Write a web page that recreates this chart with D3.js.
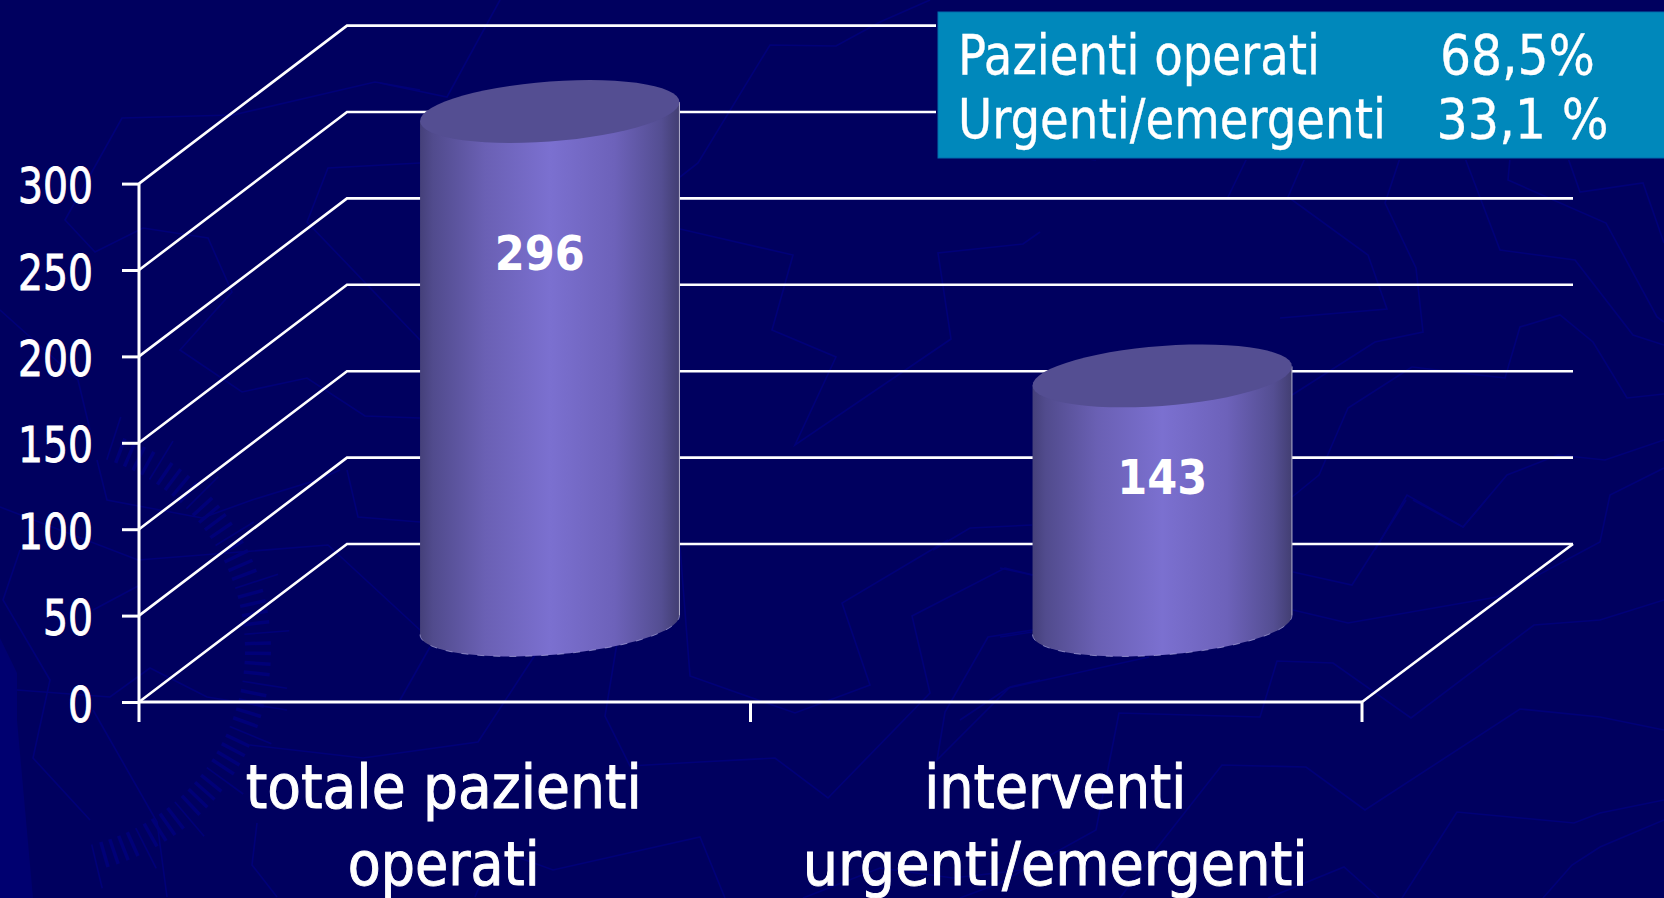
<!DOCTYPE html>
<html><head><meta charset="utf-8">
<script src="https://cdn.jsdelivr.net/npm/d3@7/dist/d3.min.js"></script>
<style>html,body{margin:0;padding:0;background:#00005f;overflow:hidden}
svg{display:block}text{font-family:"DejaVu Sans",sans-serif;font-stretch:condensed;fill:#fff}</style>
</head><body><svg id="c" width="1664" height="898"></svg>
<script>
// ---- data
const categories = ["totale pazienti\noperati", "interventi\nurgenti/emergenti"];
const values = [296, 143];
const yTicks = [0, 50, 100, 150, 200, 250, 300];
const noteLabels = ["Pazienti operati", "Urgenti/emergenti"];
const noteValues = ["68,5%", "33,1 %"];
// ---- decorative background watermark (compass and route lines)
const wmLines = [
 [[420,90],[375,82],[233,115],[122,118],[65,220],[95,252],[143,228],[208,238],[232,292],[180,350],[242,392],[307,378],[365,416],[420,418]],
 [[420,163],[328,168],[307,222],[420,340]],
 [[0,310],[78,380],[90,430]],
 [[347,470],[358,517],[420,522]],
 [[97,460],[107,500],[202,518],[252,500],[317,480],[340,470]],
 [[0,507],[138,560],[328,545],[420,630]],
 [[20,550],[3,600],[50,680],[33,758],[90,820]],
 [[17,690],[110,697],[150,668],[207,697],[287,710]],
 [[93,710],[157,822],[167,897]],
 [[140,585],[93,610]],
 [[250,745],[363,758],[478,742],[535,655]],
 [[257,823],[252,865],[277,897]],
 [[500,0],[447,97],[380,83]],
 [[430,647],[400,700]],
 [[617,643],[605,716],[630,766],[700,762],[775,758],[828,798],[930,693],[912,616],[1005,568],[1033,575]],
 [[520,858],[553,870],[700,837],[725,898]],
 [[480,885],[475,897]],
 [[680,547],[690,676],[795,713],[870,685],[842,603],[948,540]],
 [[680,229],[793,255],[772,330],[836,357],[795,445],[951,339],[938,253],[1023,244],[1040,232]],
 [[680,177],[698,163],[770,45],[836,46],[880,22],[930,0]],
 [[933,550],[970,528],[1032,525]],
 [[1033,630],[988,637],[945,712],[937,760],[1010,687],[1040,680]],
 [[803,898],[880,868],[953,878],[1040,868]],
 [[1096,160],[1081,158]],[[1228,197],[1247,158]],
 [[1305,158],[1288,197],[1368,255],[1387,309],[1280,318]],
 [[1400,158],[1385,203],[1416,268],[1423,332],[1375,342],[1292,395]],
 [[1465,158],[1500,250],[1575,260],[1633,335],[1664,345]],
 [[1510,158],[1508,180],[1606,223],[1657,317],[1664,322]],
 [[1568,158],[1580,192],[1643,183],[1664,243]],
 [[1412,367],[1462,373],[1505,378],[1520,327],[1560,315],[1593,342],[1627,398],[1664,394]],
 [[1412,367],[1348,408],[1319,475],[1292,497]],
 [[1375,550],[1407,495],[1463,527],[1507,475],[1558,455],[1605,460],[1664,440]],
 [[1664,468],[1610,495],[1600,542],[1497,597],[1348,623],[1293,610]],
 [[1406,500],[1352,585],[1293,572]],
 [[1664,600],[1600,620],[1534,625],[1411,718],[1333,663],[1277,661],[1260,717],[1119,713],[1096,830],[1000,883],[960,898]],
 [[1664,730],[1600,717],[1520,709],[1365,810],[1306,767],[1222,765],[1153,853],[1120,898]],
 [[1664,800],[1600,813],[1574,823],[1457,812],[1402,898]],
 [[1664,820],[1600,847],[1572,865],[1543,898]],
 [[1268,898],[1344,867],[1379,898]],
 [[1032,632],[1000,637]],[[1032,575],[1000,568]],
 [[1149,657],[1008,688],[960,720]],
 [[1413,500],[1463,527],[1486,500]]
];
const wmWedge = [[0,638],[17,673],[17,720],[33,898],[0,898]];

// ---- geometry
const svg = d3.select("#c");
const BG = "#00005f", WM = "#000078";
const depth = {x: 208, y: -158};
const y = d3.scaleLinear().domain([0, 300]).range([702, 183.6]);
const x = d3.scaleBand().domain(categories).range([139, 1362]);
const line = d3.line();

svg.append("rect").attr("width",1664).attr("height",898).attr("fill",BG);

// watermark
const wm = svg.append("g").attr("fill","none").attr("stroke",WM).attr("stroke-width",1.6);
wm.selectAll("path.l").data(wmLines).join("path").attr("class","l").attr("d",line);
svg.append("path").attr("d",line(wmWedge)+"Z").attr("fill","#000070");
const ticksArc = d3.range(-72, 78, 2.7);
wm.selectAll("line.t").data(ticksArc).join("line").attr("class","t")
  .attr("x1",a=>45+200*Math.cos(a*Math.PI/180)).attr("y1",a=>650+200*Math.sin(a*Math.PI/180))
  .attr("x2",(a,i)=>45+(i%5==0?245:226)*Math.cos(a*Math.PI/180)).attr("y2",(a,i)=>650+(i%5==0?245:226)*Math.sin(a*Math.PI/180))
  .attr("stroke-width",(a,i)=>i%5==0?1.6:3.5);

// gridlines: side wall + back wall
const grid = svg.append("g").attr("fill","none").attr("stroke","#fff").attr("stroke-width",2.6);
grid.selectAll("path").data(yTicks).join("path")
  .attr("d",v=>line([[x.range()[0],y(v)],[x.range()[0]+depth.x,y(v)+depth.y],[x.range()[1]+depth.x+3,y(v)+depth.y]]));
// floor
grid.append("path").attr("d",line([[x.range()[1],y(0)],[x.range()[1]+depth.x+3,y(0)+depth.y]]));

// axes
const yAxis = d3.axisLeft(y).tickValues(yTicks).tickSize(17).tickPadding(29);
const gy = svg.append("g").attr("transform",`translate(${x.range()[0]},0)`).call(yAxis);
gy.select(".domain").remove();
gy.selectAll(".tick line").attr("stroke","#fff").attr("stroke-width",3);
gy.selectAll(".tick text").attr("dy",19).style("font-size","49px").attr("fill","#fff")
  .attr("stroke","#fff").attr("stroke-width",0.8)
  .attr("textLength",v=>String(v).length*25).attr("lengthAdjust","spacingAndGlyphs");
svg.append("path").attr("d",line([[139,y(300)],[139,722]])).attr("stroke","#fff").attr("stroke-width",3);
svg.append("path").attr("d",line([[139,y(0)],[x.range()[1],y(0)]])).attr("stroke","#fff").attr("stroke-width",3);
const edges = [x.range()[0], x(categories[1]), x.range()[1]];
svg.selectAll("line.xt").data(edges.slice(1)).join("line").attr("class","xt")
  .attr("x1",d=>d).attr("x2",d=>d).attr("y1",y(0)).attr("y2",722).attr("stroke","#fff").attr("stroke-width",3);

// gradient
const defs = svg.append("defs");
const gr = defs.append("linearGradient").attr("id","cyl").attr("x1",0).attr("x2",1).attr("y1",0).attr("y2",0);
[[0,"#45407a"],[.05,"#514b8d"],[.25,"#6a60b4"],[.5,"#7b70d0"],[.75,"#6d62ba"],[.93,"#544e92"],[1,"#423e72"]]
 .forEach(s=>gr.append("stop").attr("offset",s[0]).attr("stop-color",s[1]));

// cylinders
const hw = 129.7, ux = -9.5, vy = 30;
const barDx = [1, 2], labelDx = [-9, 2], labelY = [270, 494];
const cx = d => x(d.c) + x.bandwidth()/2 + depth.x/2 + barDx[d.i];
const base = y(0) + depth.y/2;
const botY = base + 2;
const h = v => y(0) - y(v);
const ell = (c, cy, from, to) => d3.range(0, 61).map(i => {
  const t = from + (to-from)*i/60;
  return [c + hw*Math.cos(t), cy + ux*Math.cos(t) + vy*Math.sin(t)];
});
const bars = svg.selectAll("g.bar").data(categories.map((c,i)=>({c, i, v: values[i]}))).join("g").attr("class","bar");
bars.append("path").attr("fill","url(#cyl)").attr("d",d=>{
  const c = cx(d), bot = ell(c, botY, Math.PI, 0);
  return line([[c-hw, base-h(d.v)-ux], ...bot, [c+hw, base-h(d.v)+ux]])+"Z";
});
bars.append("path").attr("fill","none").attr("stroke","#c6c2ee").attr("stroke-opacity",.55).attr("stroke-width",1).attr("stroke-dasharray","7 9")
  .attr("d",d=>line(ell(cx(d), botY, Math.PI, 0)));
bars.append("path").attr("stroke","#b4b2cc").attr("stroke-width",1)
  .attr("d",d=>{const c=cx(d);return line([[c+hw,base-h(d.v)+ux],[c+hw,botY+ux]]);});
bars.append("path").attr("fill","#544e92").attr("d",d=>line(ell(cx(d), base-h(d.v), 0, 2*Math.PI))+"Z");
bars.append("text").text(d=>d.v).attr("text-anchor","middle")
  .attr("x",d=>x(d.c)+x.bandwidth()/2+depth.x/2+labelDx[d.i]).attr("y",d=>labelY[d.i])
  .style("font-size","48px").style("font-weight","bold").style("font-stretch","normal")
  .attr("textLength",90).attr("lengthAdjust","spacingAndGlyphs");

// category labels
const catWidths = [[396,192],[262,505]];
categories.forEach((c,i)=>{
  c.split("\n").forEach((t,j)=>{
    svg.append("text").text(t).attr("text-anchor","middle")
      .attr("x",x(c)+x.bandwidth()/2-1).attr("y",808+j*77)
      .style("font-size","60px").attr("stroke","#fff").attr("stroke-width",0.9)
      .attr("textLength",catWidths[i][j]).attr("lengthAdjust","spacingAndGlyphs");
  });
});

// note box
svg.append("rect").attr("x",936).attr("y",10).attr("width",728).attr("height",150).attr("fill",BG);
svg.append("rect").attr("x",938).attr("y",12).attr("width",730).attr("height",146)
  .attr("fill","#0088bb").attr("stroke","#006cae").attr("stroke-width",1);
const labW = [362,428], valX = [1440,1436.5], valW = [155,172], noteY = [74,138];
noteLabels.forEach((t,i)=>{
  svg.append("text").text(t).attr("x",958).attr("y",noteY[i]).style("font-size","55px")
    .attr("stroke","#fff").attr("stroke-width",0.3)
    .attr("textLength",labW[i]).attr("lengthAdjust","spacingAndGlyphs");
  svg.append("text").text(noteValues[i]).attr("x",valX[i]).attr("y",noteY[i]).style("font-size","55px")
    .attr("stroke","#fff").attr("stroke-width",0.3)
    .attr("textLength",valW[i]).attr("lengthAdjust","spacingAndGlyphs");
});
</script></body></html>
